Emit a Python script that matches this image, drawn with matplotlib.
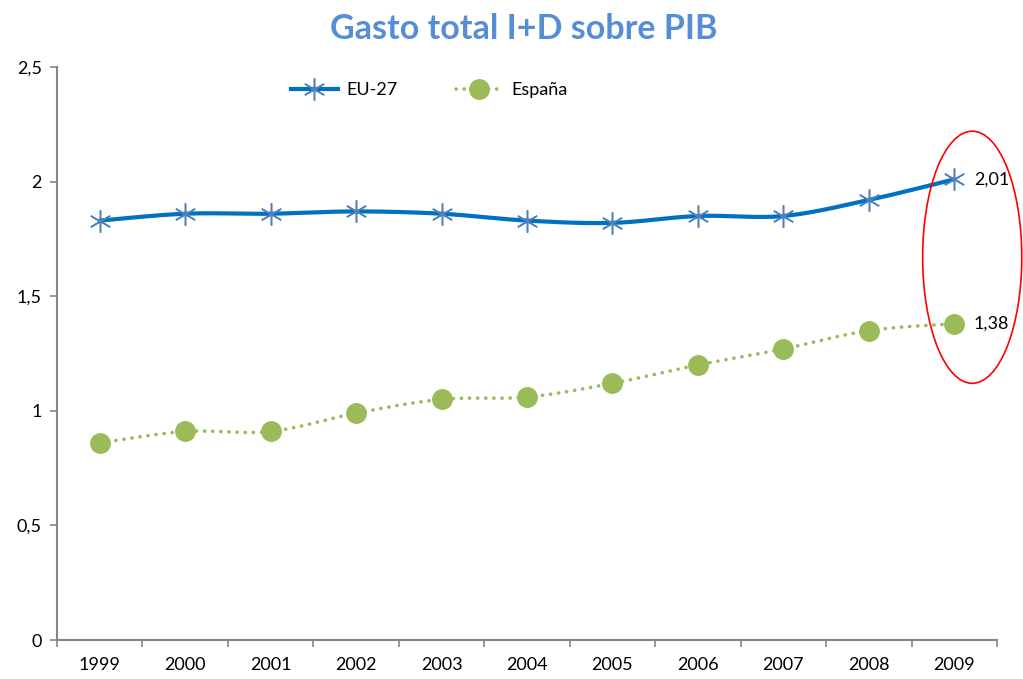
import numpy as np
import matplotlib
matplotlib.use("Agg")
from matplotlib import pyplot as plt
from matplotlib.patches import Ellipse

years = ["1999", "2000", "2001", "2002", "2003", "2004", "2005", "2006", "2007", "2008", "2009"]
eu27 = [1.83, 1.86, 1.86, 1.87, 1.86, 1.83, 1.82, 1.85, 1.85, 1.92, 2.01]
espana = [0.86, 0.91, 0.91, 0.99, 1.05, 1.06, 1.12, 1.20, 1.27, 1.35, 1.38]
yticks = [0, 0.5, 1, 1.5, 2, 2.5]
ytick_labels = ["0", "0,5", "1", "1,5", "2", "2,5"]

plt.rcParams['font.family'] = ['Lato', 'DejaVu Sans']


def smooth(y, n=30):
    # Excel-style smoothed line (Catmull-Rom through the data points)
    x = np.arange(len(y), dtype=float)
    y = np.asarray(y, dtype=float)
    px = np.concatenate([[x[0]], x, [x[-1]]])
    py = np.concatenate([[y[0]], y, [y[-1]]])
    xs, ys = [], []
    t = np.linspace(0, 1, n)
    for i in range(1, len(px) - 2):
        for p, out in ((px, xs), (py, ys)):
            p0, p1, p2, p3 = p[i - 1], p[i], p[i + 1], p[i + 2]
            c1 = p1 + (p2 - p0) / 6
            c2 = p2 - (p3 - p1) / 6
            out.extend((1 - t) ** 3 * p1 + 3 * (1 - t) ** 2 * t * c1 + 3 * (1 - t) * t ** 2 * c2 + t ** 3 * p2)
    return np.array(xs), np.array(ys)


fig = plt.figure(figsize=(10.23, 6.79), dpi=100)
ax = fig.add_axes([0.0557, 0.0574, 0.9189, 0.8439])
x = np.arange(len(years))

blue = "#0070C0"
green = "#9BBB59"
dots = (0, (0.05, 2.2))
star = (6, 2, 0)

sx, sy = smooth(eu27)
ax.plot(sx, sy, color=blue, lw=3, solid_capstyle='round', zorder=3)
ax.plot(x, eu27, ls='none', marker=star, ms=16, mew=1.1, mec="#4F81BD", zorder=4)

gx, gy = smooth(espana)
ax.plot(gx, gy, color=green, lw=2.6, ls=dots, dash_capstyle='round', zorder=3)
ax.plot(x, espana, ls='none', marker='o', ms=14, color=green, zorder=4)

# legend proxies
ax.plot([], [], color=blue, lw=3, marker=star, ms=16, mew=1.1, mec="#4F81BD", label="EU-27")
ax.plot([], [], color=green, lw=2.6, ls=dots, dash_capstyle='round', marker='o', ms=14, label="España")
ax.legend(loc='center', bbox_to_anchor=(0.396, 0.96), ncol=2, frameon=False,
          fontsize=13, handlelength=2.6, columnspacing=3.2, handletextpad=0.5)

ax.annotate("2,01", (x[-1], eu27[-1]), xytext=(14, 0), textcoords='offset points',
            va='center', ha='left', fontsize=13)
ax.annotate("1,38", (x[-1], espana[-1]), xytext=(14, 0), textcoords='offset points',
            va='center', ha='left', fontsize=13)

ax.add_patch(Ellipse((10.21, 1.67), 1.16, 1.10, fill=False, ec='red', lw=1.2, clip_on=False, zorder=5))

ax.set_xlim(-0.5, len(years) - 0.5)
ax.set_ylim(0, 2.5)
ax.set_yticks(yticks)
ax.set_yticklabels(ytick_labels)
ax.set_xticks(x)
ax.set_xticklabels(years)
ax.set_xticks(np.arange(-0.5, len(years)), minor=True)
ax.tick_params(axis='x', which='major', length=0, pad=12, labelsize=13)
ax.tick_params(axis='x', which='minor', length=5, color='#868686', width=1.2)
ax.tick_params(axis='y', length=5, color='#868686', width=1.2, labelsize=13, pad=6)
for s in ['top', 'right']:
    ax.spines[s].set_visible(False)
for s in ['left', 'bottom']:
    ax.spines[s].set_color('#868686')
    ax.spines[s].set_linewidth(1.5)

fig.text(0.512, 0.958, "Gasto total I+D sobre PIB", ha='center', va='center',
         fontsize=24.5, fontweight='bold', color='#558ED5')

fig.savefig("out.png", dpi=100)
